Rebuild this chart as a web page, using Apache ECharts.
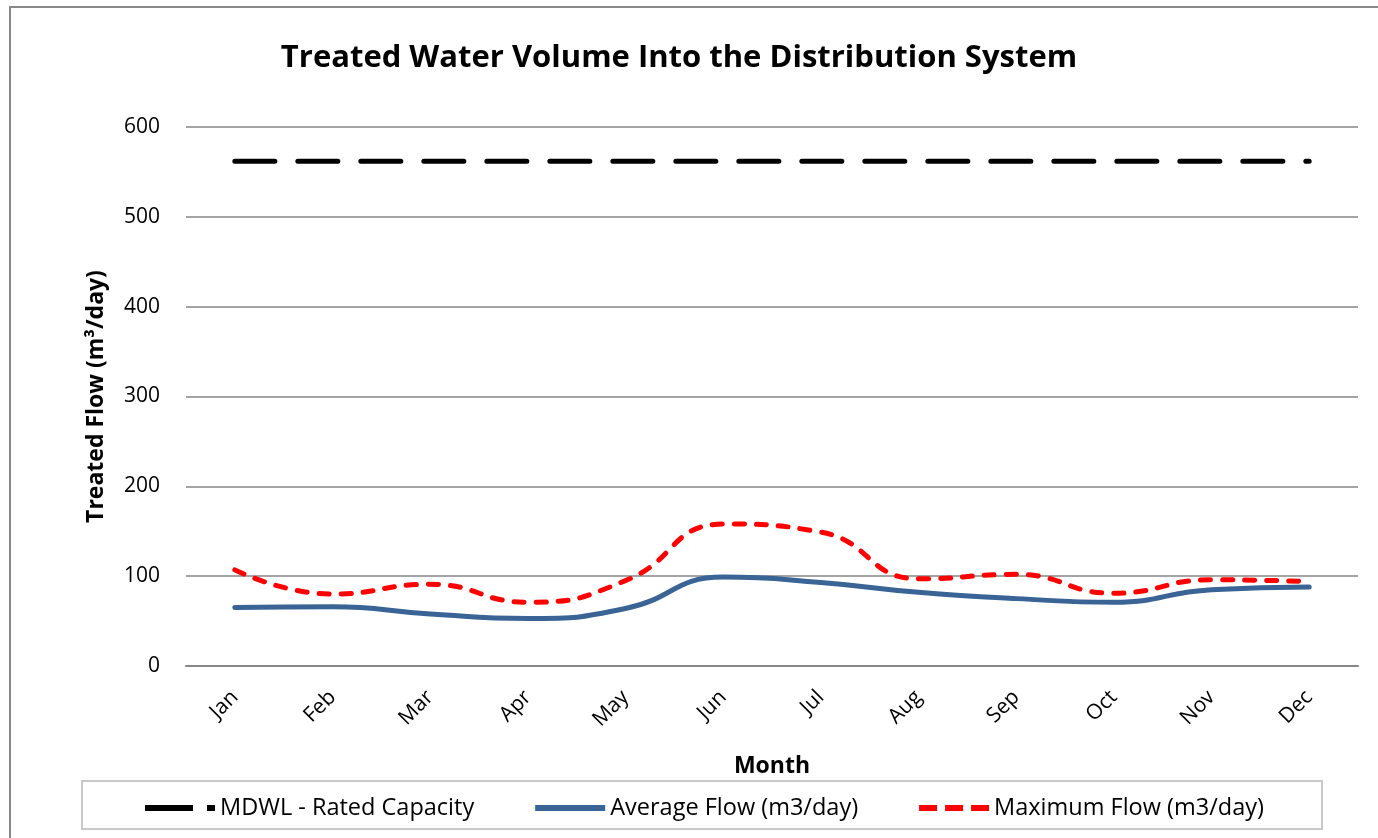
<!DOCTYPE html>
<html><head><meta charset="utf-8">
<script src="https://cdn.jsdelivr.net/npm/echarts@6/dist/echarts.min.js"></script>
<style>html,body{margin:0;padding:0;background:#fff}#c{width:1378px;height:838px}</style>
</head><body><div id="c"></div>
<script>
const months = ['Jan','Feb','Mar','Apr','May','Jun','Jul','Aug','Sep','Oct','Nov','Dec'];
const ratedCapacity = [562,562,562,562,562,562,562,562,562,562,562,562];
const averageFlow = [65,66,58,53,64,99,93,82,75,71,85,88];
const maximumFlow = [107,80,91,71,95,158,149,97,102,81,96,94];
const yTicks = [0,100,200,300,400,500,600];

const font = '"Open Sans", "Noto Sans", sans-serif';
const chart = echarts.init(document.getElementById('c'));
chart.setOption({
  animation: false,
  textStyle: {fontFamily: font},
  title: {
    text: 'Treated Water Volume Into the Distribution System',
    left: 674, top: 38, textAlign: 'center',
    textStyle: {fontSize: 31, fontWeight: 'bold', color: '#000', fontFamily: font}
  },
  graphic: [
    {type: 'rect', shape: {x: 10, y: 7, width: 1400, height: 900}, style: {fill: 'none', stroke: '#898989', lineWidth: 2}, silent: true, z: -1},
    {type: 'rect', shape: {x: 82, y: 781, width: 1240, height: 48}, style: {fill: 'none', stroke: '#c8c8c8', lineWidth: 2}, silent: true, z: -1}
  ],
  legend: {
    left: 140, top: 791,
    itemWidth: 70, itemHeight: 6, itemGap: 61,
    textStyle: {fontSize: 23.5, color: '#000', fontFamily: font, padding: [0,0,0,0]},
    data: [
      {name: 'MDWL - Rated Capacity', icon: 'path://M0,0h48v6h-48z M62,0h8v6h-8z', itemStyle: {color: '#000'}},
      {name: 'Average Flow (m3/day)', icon: 'path://M0,0h70v6h-70z', itemStyle: {color: '#3a6496'}},
      {name: 'Maximum Flow (m3/day)', icon: 'path://M0,0h18v6h-18z M26,0h18v6h-18z M52,0h18v6h-18z', itemStyle: {color: '#ff0000'}}
    ]
  },
  grid: {left: 186, right: 20, top: 127, bottom: 172},
  xAxis: {
    type: 'category', data: months, boundaryGap: true,
    name: 'Month', nameLocation: 'middle', nameGap: 89,
    nameTextStyle: {fontSize: 23, fontWeight: 'bold', color: '#000'},
    axisLine: {lineStyle: {color: '#868686', width: 2}},
    axisTick: {show: false},
    axisLabel: {rotate: 45, fontSize: 21, color: '#000', margin: 28}
  },
  yAxis: {
    type: 'value', min: 0, max: 600, interval: 100,
    name: 'Treated Flow (m³/day)', nameLocation: 'middle', nameGap: 78,
    nameTextStyle: {fontSize: 23, fontWeight: 'bold', color: '#000'},
    axisLine: {show: false}, axisTick: {show: false},
    axisLabel: {fontSize: 21, color: '#000', margin: 26, formatter: v => yTicks.includes(v) ? String(v) : ''},
    splitLine: {lineStyle: {color: '#868686', width: 1.5}}
  },
  series: [
    {name: 'MDWL - Rated Capacity', type: 'line', data: ratedCapacity, symbol: 'none',
     lineStyle: {color: '#000', width: 5, type: [40, 23], cap: 'round'}, itemStyle: {color: '#000'}},
    {name: 'Average Flow (m3/day)', type: 'line', data: averageFlow, symbol: 'none', smooth: 0.5,
     lineStyle: {color: '#3a6496', width: 5, cap: 'round'}, itemStyle: {color: '#3a6496'}},
    {name: 'Maximum Flow (m3/day)', type: 'line', data: maximumFlow, symbol: 'none', smooth: 0.5,
     lineStyle: {color: '#ff0000', width: 5, type: [10, 12], cap: 'round'}, itemStyle: {color: '#ff0000'}}
  ]
});
</script></body></html>
